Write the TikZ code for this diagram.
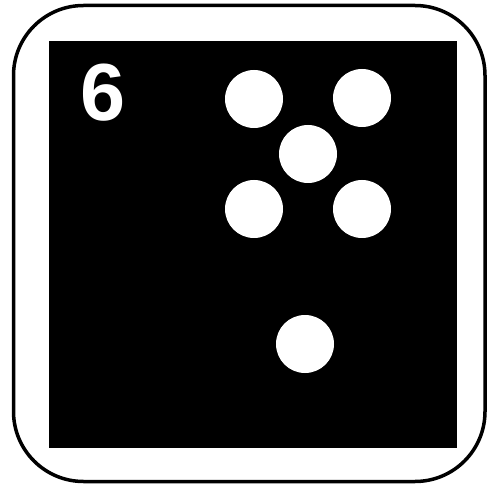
\documentclass[tikz,border=0pt]{standalone}
\usepackage{fontspec}
\setmainfont{Liberation Sans}
\begin{document}
\begin{tikzpicture}[x=1pt,y=-1pt,
  pip/.style={circle,fill=white,draw=none,minimum size=58pt,inner sep=0pt},
  frame/.style={draw=black,line width=3.5pt,rounded corners=70pt},
  face/.style={fill=black,draw=none}]
\useasboundingbox (0,0) rectangle (487,486);
\draw[frame] (13.5,5.5) rectangle (485,481.5);
\path[face] (49,41) rectangle (457,448);
\node[text=white,font=\bfseries\fontsize{81}{81}\selectfont,inner sep=0pt,anchor=base] (num) at (103,121) {6};
\node[pip] (p1) at (254,99) {};
\node[pip] (p2) at (362,98) {};
\node[pip] (p3) at (308,154) {};
\node[pip] (p4) at (254,209) {};
\node[pip] (p5) at (362,209) {};
\node[pip] (p6) at (305,344) {};
\end{tikzpicture}
\end{document}
